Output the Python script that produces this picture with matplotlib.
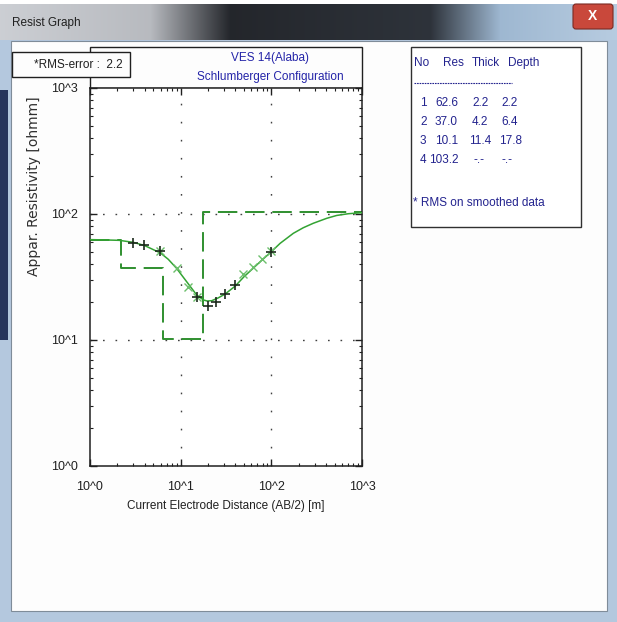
import matplotlib
matplotlib.use("Agg")
import matplotlib.pyplot as plt
from matplotlib.patches import Rectangle, FancyBboxPatch
import numpy as np

plt.rcParams['font.family'] = ['Liberation Sans', 'DejaVu Sans']

# layered model (Res in ohmm, thickness/depth in m)
layer_res = [62.6, 37.0, 10.1, 103.2]
layer_thick = [2.2, 4.2, 11.4]
layer_depth = [2.2, 6.4, 17.8]

# field data (AB/2, apparent resistivity)
ab2_obs = [2.96, 3.97, 5.96, 15.0, 19.9, 24.5, 31.1, 39.7, 99.1]
rho_obs = [58.5, 56.5, 51.0, 22.0, 18.7, 19.9, 23.0, 27.3, 49.7]

# smoothed data
ab2_smooth = [5.96, 9.04, 12.0, 15.0, 49.1, 63.2, 78.3, 99.1]
rho_smooth = [50.5, 37.5, 26.3, 22.0, 33.3, 38.3, 43.9, 50.5]

# calculated curve for the model
ab2_calc = [1.0, 1.3, 2.1, 3.0, 4.0, 6.0, 7.3, 9.0, 12.0, 15.0, 17.8, 19.5,
            22.0, 26.0, 31.0, 40.0, 50.0, 63.0, 80.0, 100.0, 125.0, 175.0,
            225.0, 290.0, 408.0, 526.0, 706.0, 1000.0]
rho_calc = [62.6, 62.4, 61.8, 59.6, 56.2, 49.0, 43.7, 37.1, 28.2, 22.8, 20.8,
            20.4, 20.5, 21.6, 23.2, 26.8, 31.8, 37.1, 43.5, 50.2, 58.5, 70.3,
            77.8, 84.4, 92.4, 97.4, 100.5, 102.5]

rms_error = 2.2
x_ticks = [1, 10, 100, 1000]
x_tick_labels = ['10^0', '10^1', '10^2', '10^3']
y_ticks = [1, 10, 100, 1000]
y_tick_labels = ['10^0', '10^1', '10^2', '10^3']

W, H = 617, 622
fig = plt.figure(figsize=(W / 100, H / 100), dpi=100)
fig.patch.set_facecolor('white')

# window frame drawn in pixel units
bg = fig.add_axes([0, 0, 1, 1], zorder=0)
bg.set_xlim(0, W)
bg.set_ylim(H, 0)
bg.axis('off')

frame_col = '#b4c8de'
bg.add_patch(Rectangle((0, 4), W, H - 4, facecolor=frame_col, edgecolor='none'))
# dark strip on the left border
bg.add_patch(Rectangle((0, 90), 8, 250, facecolor='#27355c', edgecolor='none'))

# title bar gradient
stops_x = [0, 150, 230, 430, 500, 617]
stops_c = [(0.80, 0.81, 0.83), (0.72, 0.73, 0.75), (0.14, 0.15, 0.17),
           (0.18, 0.20, 0.23), (0.62, 0.72, 0.82), (0.72, 0.80, 0.88)]
xs = np.arange(W)
grad = np.zeros((1, W, 3))
for k in range(3):
    grad[0, :, k] = np.interp(xs, stops_x, [c[k] for c in stops_c])
bg.imshow(grad, extent=(0, W, 40, 4), aspect='auto', zorder=1)
bg.text(12, 23, 'Resist Graph', fontsize=8.5, color='#202020', va='center', zorder=3)

# close button
bg.add_patch(FancyBboxPatch((573, 4), 40, 25, boxstyle='round,pad=0,rounding_size=3',
                            facecolor='#c9483b', edgecolor='#7a2a22', lw=0.8, zorder=3))
bg.text(593, 16, 'X', fontsize=10, fontweight='bold', color='white',
        ha='center', va='center', zorder=4)

# client area
bg.add_patch(Rectangle((11, 41), 596, 570, facecolor='#fdfdfd', edgecolor='#7f8c99',
                       lw=0.8, zorder=2))

# title box above the plot
bg.add_patch(Rectangle((90, 47), 272, 41, facecolor='none', edgecolor='#202020',
                       lw=1, zorder=3))
bg.text(270, 58, 'VES 14(Alaba)', fontsize=8.5, color='#2424a8', ha='center',
        va='center', zorder=4)
bg.text(270, 77, 'Schlumberger Configuration', fontsize=8.5, color='#2424a8',
        ha='center', va='center', zorder=4)

# rms box
bg.add_patch(Rectangle((12, 52), 118, 25, facecolor='#fdfdfd', edgecolor='#202020',
                       lw=1, zorder=4))
bg.text(78, 65, '*RMS-error :  %.1f' % rms_error, fontsize=8.5, color='#202020',
        ha='center', va='center', zorder=5)

# results table
tcol = '#23238e'
bg.add_patch(Rectangle((411, 47), 170, 180, facecolor='white', edgecolor='#303030',
                       lw=1, zorder=3))
bg.text(414, 63, 'No', fontsize=8.5, color=tcol, va='center', zorder=4)
bg.text(443, 63, 'Res', fontsize=8.5, color=tcol, va='center', zorder=4)
bg.text(472, 63, 'Thick', fontsize=8.5, color=tcol, va='center', zorder=4)
bg.text(508, 63, 'Depth', fontsize=8.5, color=tcol, va='center', zorder=4)
bg.plot([414, 512], [83, 83], color=tcol, lw=0.8, ls=(0, (1.5, 0.8)), zorder=4)
row_y = [103, 122, 141, 160]
for i, res in enumerate(layer_res):
    y = row_y[i]
    bg.text(420, y, str(i + 1), fontsize=8.5, color=tcol, va='center', zorder=4)
    bg.text(435 if res < 100 else 429, y, '%.1f' % res, fontsize=8.5, color=tcol,
            va='center', zorder=4)
    if i < len(layer_thick):
        bg.text(472 if layer_thick[i] < 10 else 469, y, '%.1f' % layer_thick[i],
                fontsize=8.5, color=tcol, va='center', zorder=4)
        bg.text(501 if layer_depth[i] < 10 else 499, y, '%.1f' % layer_depth[i],
                fontsize=8.5, color=tcol, va='center', zorder=4)
    else:
        bg.text(474, y, '-.-', fontsize=8.5, color=tcol, va='center', zorder=4)
        bg.text(502, y, '-.-', fontsize=8.5, color=tcol, va='center', zorder=4)
bg.text(413, 203, '* RMS on smoothed data', fontsize=8.5, color=tcol, va='center',
        zorder=4)

# sounding curve plot
ax = fig.add_axes([90 / W, 1 - 466 / H, 272 / W, 378 / H], zorder=5)
ax.set_facecolor('white')
ax.set_xscale('log')
ax.set_yscale('log')
ax.set_xlim(1, 1000)
ax.set_ylim(1, 1000)

for v in [10, 100]:
    ax.axhline(v, color='#404040', lw=1.0, ls=(0, (1.2, 7.8)), zorder=1)
    ax.axvline(v, color='#404040', lw=1.0, ls=(0, (1.2, 11.8)), zorder=1)

# model as step line
step_x = [1.0]
step_y = [layer_res[0]]
for i, d in enumerate(layer_depth):
    step_x += [d, d]
    step_y += [layer_res[i], layer_res[i + 1]]
step_x.append(1000.0)
step_y.append(layer_res[-1])
ax.plot(step_x, step_y, color='#2f8f2f', lw=1.4, ls=(0, (10, 4)), zorder=2)

ax.plot(ab2_calc, rho_calc, color='#33a333', lw=1.1, zorder=3)
ax.plot(ab2_smooth, rho_smooth, ls='none', marker='x', ms=5.5, mew=1.0,
        color='#6cbf6c', zorder=4)
ax.plot(ab2_obs, rho_obs, ls='none', marker='+', ms=7.5, mew=1.2,
        color='#1c2a1c', zorder=5)

ax.set_xticks(x_ticks, x_tick_labels)
ax.set_yticks(y_ticks, y_tick_labels)
ax.tick_params(which='both', direction='in', top=True, right=True,
               labelsize=9, colors='#202020')
ax.tick_params(which='major', length=5, width=1)
ax.tick_params(which='minor', length=2.5, width=0.8)
ax.tick_params(axis='x', pad=11)
ax.tick_params(axis='y', pad=9)
for s in ax.spines.values():
    s.set_linewidth(1.1)
    s.set_color('#202020')

ax.set_xlabel('Current Electrode Distance (AB/2) [m]', fontsize=8.5, labelpad=5,
              color='#202020')
ax.set_ylabel('Appar. Resistivity [ohmm]', fontsize=10, color='#303030',
              family=['DejaVu Sans'])
ax.yaxis.set_label_coords(-0.18, 0.74)

fig.savefig('out.png', dpi=100)
